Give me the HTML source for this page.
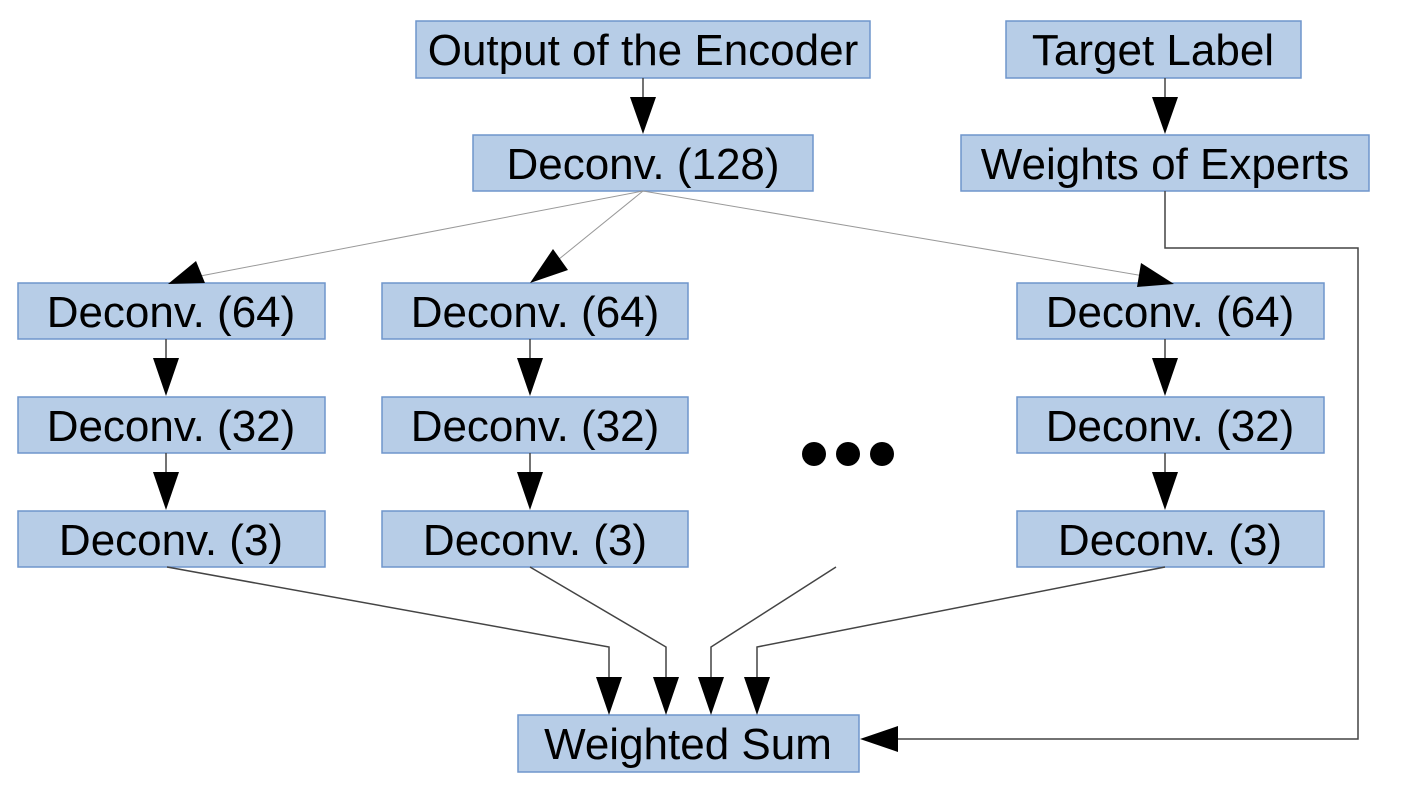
<!DOCTYPE html>
<html><head><meta charset="utf-8"><style>
html,body{margin:0;padding:0;background:#fff;}
svg{display:block;}
text{font-family:"Liberation Sans",sans-serif;font-size:44px;fill:#000;}
</style></head><body>
<svg width="1405" height="786" viewBox="0 0 1405 786" xmlns="http://www.w3.org/2000/svg">
<g fill="#b7cde7" stroke="#6f95cc" stroke-width="1.5">
<rect x="416" y="21" width="454" height="57"/>
<rect x="1006" y="21" width="295" height="57"/>
<rect x="473" y="135" width="340" height="56"/>
<rect x="961" y="135" width="408" height="56"/>
<rect x="18" y="283" width="307" height="56"/>
<rect x="18" y="397" width="307" height="56"/>
<rect x="18" y="511" width="307" height="56"/>
<rect x="382" y="283" width="306" height="56"/>
<rect x="382" y="397" width="306" height="56"/>
<rect x="382" y="511" width="306" height="56"/>
<rect x="1017" y="283" width="307" height="56"/>
<rect x="1017" y="397" width="307" height="56"/>
<rect x="1017" y="511" width="307" height="56"/>
<rect x="518" y="715" width="341" height="57"/>
</g>
<g text-anchor="middle">
<text x="643" y="65">Output of the Encoder</text>
<text x="1153" y="65">Target Label</text>
<text x="643" y="179">Deconv. (128)</text>
<text x="1165" y="179">Weights of Experts</text>
<text x="171" y="327">Deconv. (64)</text>
<text x="171" y="441">Deconv. (32)</text>
<text x="171" y="555">Deconv. (3)</text>
<text x="535" y="327">Deconv. (64)</text>
<text x="535" y="441">Deconv. (32)</text>
<text x="535" y="555">Deconv. (3)</text>
<text x="1170" y="327">Deconv. (64)</text>
<text x="1170" y="441">Deconv. (32)</text>
<text x="1170" y="555">Deconv. (3)</text>
<text x="688" y="759">Weighted Sum</text>
</g>
<g stroke="#444" stroke-width="1.5" fill="none">
<line x1="643" y1="78" x2="643" y2="100"/>
<line x1="166" y1="339" x2="166" y2="360"/>
<line x1="166" y1="453" x2="166" y2="474"/>
<line x1="530" y1="339" x2="530" y2="360"/>
<line x1="530" y1="453" x2="530" y2="474"/>
<line x1="1165" y1="339" x2="1165" y2="360"/>
<line x1="1165" y1="453" x2="1165" y2="474"/>
<line x1="1165" y1="78" x2="1165" y2="100"/>
<polyline points="167,567 609,647 609,680"/>
<polyline points="530,567 666,647 666,680"/>
<polyline points="836,567 711,647 711,680"/>
<polyline points="1165,567 757,647 757,680"/>
<polyline points="1165,191 1165,248 1358,248 1358,739 895,739"/>
</g>
<g stroke="#999" stroke-width="1" fill="none">
<line x1="643" y1="191" x2="190" y2="278"/>
<line x1="643" y1="191" x2="548" y2="268"/>
<line x1="643" y1="191" x2="1150" y2="277"/>
</g>
<g fill="#000">
<polygon points="630,97 656,97 643,134"/>
<polygon points="153,358 179,358 166,396"/>
<polygon points="153,472 179,472 166,510"/>
<polygon points="517,358 543,358 530,396"/>
<polygon points="517,472 543,472 530,510"/>
<polygon points="1152,358 1178,358 1165,396"/>
<polygon points="1152,472 1178,472 1165,510"/>
<polygon points="1152,97 1178,97 1165,134"/>
<polygon points="596,677 622,677 609,715"/>
<polygon points="653,677 679,677 666,715"/>
<polygon points="698,677 724,677 711,715"/>
<polygon points="744,677 770,677 757,715"/>
<polygon points="860,739 898,726 898,752"/>
<polygon points="168,284 205,283 196,261"/>
<polygon points="530,283 568,270 553,249"/>
<polygon points="1174,284 1137,287 1141,263"/>
<circle cx="814" cy="454" r="12"/>
<circle cx="848" cy="454" r="12"/>
<circle cx="882" cy="454" r="12"/>
</g>
</svg>
</body></html>
